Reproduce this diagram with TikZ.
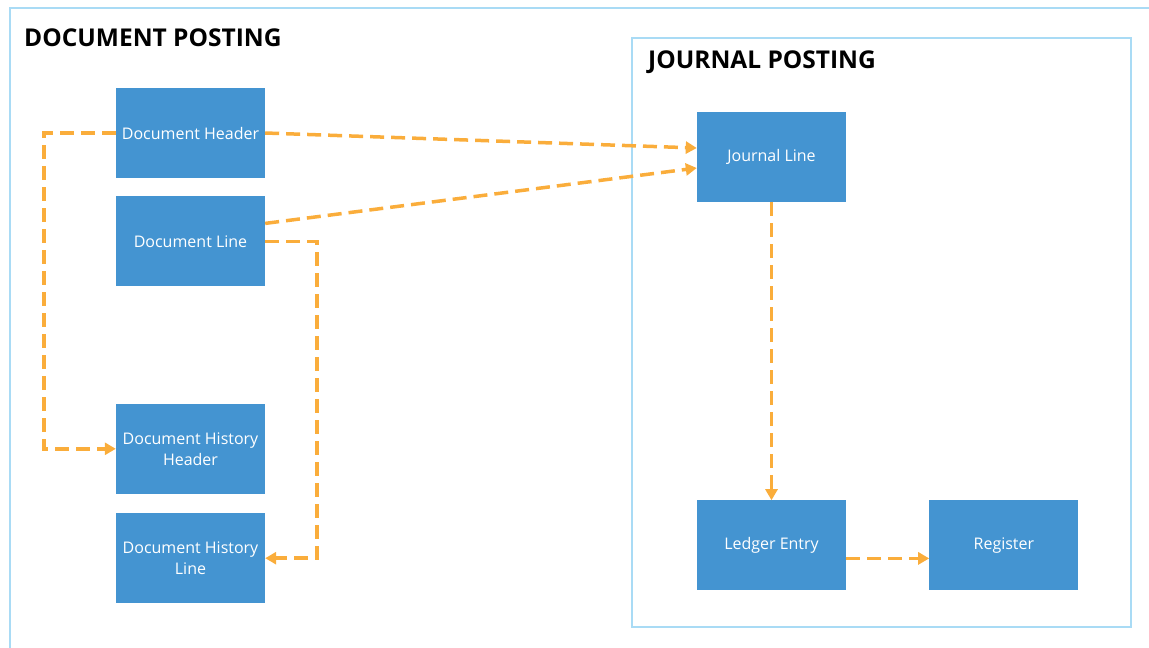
\documentclass[tikz,border=0pt]{standalone}
\usepackage{fontspec}
\setmainfont{Open Sans}
\usepackage{tikz}
\usetikzlibrary{arrows.meta}
\usetikzlibrary{positioning}
\definecolor{boxblue}{HTML}{4494D1}
\definecolor{framebl}{HTML}{A9DBF5}
\definecolor{flowor}{HTML}{FAAD3B}
\tikzstyle{every node}+=[inner sep=0pt]
\tikzstyle{block} = [rectangle, fill=boxblue, text=white, font=\fontsize{16}{21}\selectfont, align=center, minimum width=149pt, minimum height=90pt]
\tikzstyle{title} = [anchor=west, font=\fontsize{24.5}{28}\selectfont\bfseries]
\tikzstyle{frame} = [draw=framebl, line width=2pt]
\tikzstyle{line} = [draw=flowor, line width=3.5pt, dash pattern=on 14pt off 7pt, -{Triangle[length=11pt,width=12pt]}]

\begin{document}
\begin{tikzpicture}[x=1pt, y=-1pt]
            \useasboundingbox (0,0) rectangle (1149,648);
            % Frames
            \draw [frame] (10,648) -- (10,8) -- (1149,8);
            \draw [frame] (632,38) rectangle (1131,627);
            \node [title] (doctitle) at (24,38) {DOCUMENT POSTING};
            \node [title] (jnltitle) at (648,62) {JOURNAL POSTING};
            % Place nodes
            \node [block] (dochdr) at (190.5,133) {Document Header};
            \node [block, below=18pt of dochdr] (docline) {Document Line};
            \node [block, below=117pt of docline] (histhdr) {Document History\\Header};
            \node [block, below=19pt of histhdr] (histline) {Document History\\Line};
            \node [block] (jline) at (771.5,157) {Journal Line};
            \node [block, below=298pt of jline] (ledger) {Ledger Entry};
            \node [block, right=83pt of ledger] (register) {Register};
            % Draw edges
            \path [line] (dochdr.east) -- ([yshift=9pt]jline.west);
            \path [line] ([yshift=18pt]docline.east) -- ([yshift=-11pt]jline.west);
            \path [line] (dochdr.west) -- ++(-72,0) |- (histhdr.west);
            \path [line] (docline.east) -- ++(52,0) |- (histline.east);
            \path [line] (jline.south) -- (ledger.north);
            \path [line] ([yshift=-13pt]ledger.east) -- ([yshift=-13pt]register.west);
\end{tikzpicture}
\end{document}
